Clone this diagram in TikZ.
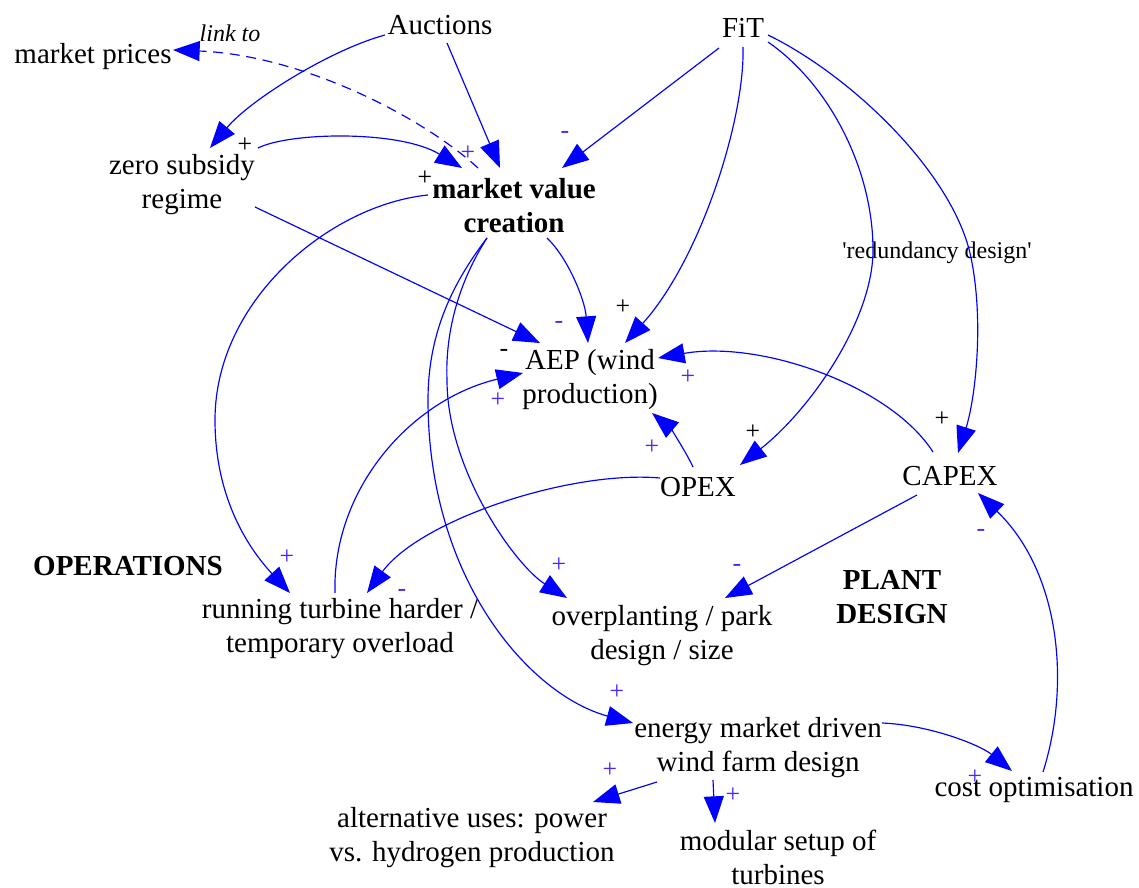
\documentclass[tikz,border=0pt]{standalone}
\usepackage{fontspec}
\setmainfont{Liberation Serif}
\newfontfamily\plainquotes{Liberation Serif}[Ligatures=TeXOff]
\usetikzlibrary{arrows.meta,calc}
\definecolor{linkblue}{RGB}{0,0,255}
\definecolor{signblue}{RGB}{70,40,255}
\begin{document}
\begin{tikzpicture}[x=0.6pt,y=-0.6pt,
  lbl/.style={inner sep=0pt, align=center, font=\fontsize{17.4}{20.4}\selectfont},
  heading/.style={inner sep=0pt, align=center, font=\fontsize{17.4}{20.4}\selectfont\bfseries},
  note/.style={inner sep=0pt, font=\fontsize{14.4}{17}\selectfont},
  link/.style={draw=linkblue, line width=0.7pt, -{Triangle[length=16pt,width=12pt]}},
  dlink/.style={link, dash pattern=on 6pt off 4pt},
  sgnk/.style={inner sep=0pt, font=\fontsize{15.5}{18}\selectfont, text=black},
  sgnb/.style={sgnk, text=signblue}
]
\useasboundingbox[fill=white] (0,0) rectangle (1139,888);

% variables
\node[lbl] (auc) at (440,25) {Auctions};
\node[lbl] (fit) at (743,28) {FiT};
\node[lbl] (mp) at (93,57) {market prices};
\node[note, font=\fontsize{14.4}{17}\selectfont\itshape] (linkto) at (230,33) {link to};
\node[lbl] (zs) at (182,185) {zero subsidy\\regime};
\node[heading] (mvc) at (514,206) {market value\\creation};
\node[note, font=\fontsize{14.4}{17}\plainquotes] (red) at (937,253) {'redundancy design'};
\node[lbl] (aep) at (590,380) {AEP (wind\\production)};
\node[lbl] (opex) at (698,487) {OPEX};
\node[lbl] (capex) at (950,476) {CAPEX};
\node[heading] (ops) at (128,566) {OPERATIONS};
\node[lbl] (run) at (340,629) {running turbine harder /\\temporary overload};
\node[lbl] (over) at (662,636) {overplanting / park\\design / size};
\node[heading] (plant) at (892,597) {PLANT\\DESIGN};
\node[lbl] (energy) at (758,748) {energy market driven\\wind farm design};
\node[lbl] (cost) at (1034,790) {cost optimisation};
\node[lbl] (alt) at (472,838) {alternative uses: power\\vs. hydrogen production};
\node[lbl] (mod) at (778,857) {modular setup of\\turbines};

% causal links
\draw[link] ($(auc)+(-55,10)$) .. controls (330,50) and (250,100) .. ($(zs)+(28,-37)$);
\draw[link] ($(auc)+(7,18)$) -- ($(mvc)+(-14,-38)$);
\draw[link] ($(zs)+(76,-37)$) .. controls (290,132) and (400,130) .. ($(mvc)+(-52,-38)$);
\draw[dlink] ($(mvc)+(-36,-38)$) .. controls (420,115) and (300,55) .. ($(mp)+(80,-7)$);
\draw[link] ($(fit)+(-24,20)$) -- ($(mvc)+(48,-38)$);
\draw[link] ($(fit)+(0,19)$) .. controls (745,120) and (700,260) .. ($(aep)+(35,-37)$);
\draw[link] ($(fit)+(25,14)$) .. controls (830,85) and (873,170) .. (873,250)
  .. controls (873,320) and (810,410) .. ($(opex)+(42,-22)$);
\draw[link] ($(fit)+(25,7)$) .. controls (850,75) and (950,170) .. (970,253)
  .. controls (985,320) and (975,400) .. ($(capex)+(8,-23)$);
\draw[link] ($(mvc)+(33,32)$) .. controls (568,258) and (585,300) .. ($(aep)+(-2,-37)$);
\draw[link] ($(zs)+(73,22)$) -- ($(aep)+(-50,-37)$);
\draw[link] ($(capex)+(-17,-24)$) .. controls (890,385) and (760,340) .. ($(aep)+(68,-22)$);
\draw[link] ($(opex)+(-5,-20)$) .. controls (685,450) and (670,428) .. ($(aep)+(62,33)$);
\draw[link] ($(run)+(-5,-36)$) .. controls (332,490) and (410,400) .. ($(aep)+(-67,-7)$);
\draw[link] ($(mvc)+(-86,-11)$) .. controls (330,205) and (215,300) .. (215,420)
  .. controls (215,500) and (250,550) .. ($(run)+(-50,-36)$);
\draw[link] ($(opex)+(-38,-9)$) .. controls (570,470) and (420,520) .. ($(run)+(27,-36)$);
\draw[link] ($(mvc)+(-27,32)$) .. controls (460,280) and (445,330) .. (447,380)
  .. controls (447,470) and (515,565) .. ($(over)+(-95,-38)$);
\draw[link] ($(mvc)+(-27,32)$) .. controls (455,280) and (428,330) .. (428,400)
  .. controls (428,580) and (530,695) .. ($(energy)+(-125,-25)$);
\draw[link] ($(capex)+(-33,19)$) -- ($(over)+(63,-38)$);
\draw[link] ($(energy)+(124,-25)$) .. controls (930,725) and (980,745) .. ($(cost)+(-22,-19)$);
\draw[link] ($(cost)+(9,-18)$) .. controls (1072,680) and (1058,570) .. ($(capex)+(28,17)$);
\draw[link] ($(energy)+(-101,34)$) -- ($(alt)+(121,-36)$);
\draw[link] ($(energy)+(-45,32)$) -- ($(mod)+(-63,-34)$);

% polarity signs
\node[sgnk] (s1) at (245,145) {+};
\node[sgnb] (s2) at (468,153) {+};
\node[sgnk] (s3) at (425,178) {+};
\node[sgnb] (s4) at (565,135) {-};
\node[sgnk] (s5) at (623,307) {+};
\node[sgnb] (s6) at (559,325) {-};
\node[sgnk] (s7) at (504,353) {-};
\node[sgnb] (s8) at (688,377) {+};
\node[sgnb] (s9) at (498,400) {+};
\node[sgnb] (s10) at (652,447) {+};
\node[sgnk] (s11) at (753,432) {+};
\node[sgnk] (s12) at (942,419) {+};
\node[sgnb] (s13) at (287,557) {+};
\node[sgnb] (s14) at (402,593) {-};
\node[sgnb] (s15) at (559,565) {+};
\node[sgnb] (s16) at (737,568) {-};
\node[sgnb] (s17) at (981,533) {-};
\node[sgnb] (s18) at (617,692) {+};
\node[sgnb] (s19) at (610,770) {+};
\node[sgnb] (s20) at (733,795) {+};
\node[sgnb] (s21) at (975,777) {+};
\end{tikzpicture}
\end{document}
